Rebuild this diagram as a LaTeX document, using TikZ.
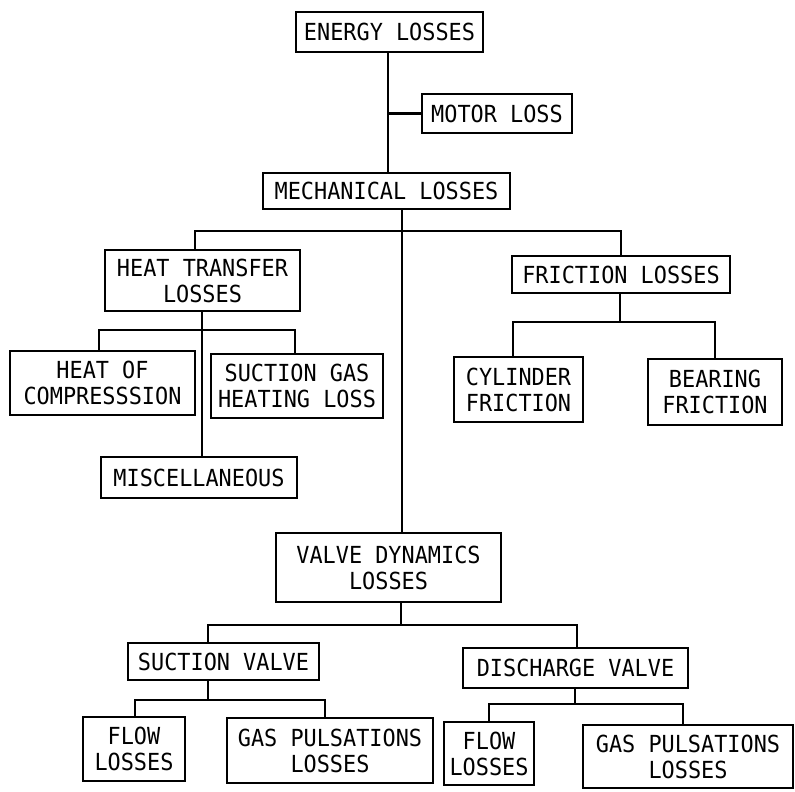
\documentclass[tikz,border=0pt]{standalone}
\usepackage{fontspec}
\newfontfamily\boxfont[FakeStretch=0.93]{DejaVu Sans Mono}
\begin{document}
\begin{tikzpicture}[x=1pt,y=-1pt,
  lbox/.style={draw, line width=2.6pt, inner sep=0pt, align=center,
    font=\boxfont\fontsize{23.5}{26}\selectfont},
  conn/.style={line width=2.8pt}]
\useasboundingbox[fill=white] (0,0) rectangle (795,792);
% boxes
\node[lbox, minimum width=187, minimum height=40] (EL) at (389.5,32) {ENERGY LOSSES};
\node[lbox, minimum width=150, minimum height=39] (MOTOR) at (497,113.5) {MOTOR LOSS};
\node[lbox, minimum width=247, minimum height=36] (MECH) at (386.5,191) {MECHANICAL LOSSES};
\node[lbox, minimum width=195, minimum height=61] (HTL) at (202.5,280.5) {HEAT TRANSFER\\LOSSES};
\node[lbox, minimum width=218, minimum height=37] (FRIC) at (621,274.5) {FRICTION LOSSES};
\node[lbox, minimum width=185, minimum height=64] (HOC) at (102.5,383) {HEAT OF\\COMPRESSSION};
\node[lbox, minimum width=172, minimum height=64] (SGH) at (297,386) {SUCTION GAS\\HEATING LOSS};
\node[lbox, minimum width=196, minimum height=41] (MISC) at (199,477.5) {MISCELLANEOUS};
\node[lbox, minimum width=129, minimum height=65] (CYL) at (518.5,389.5) {CYLINDER\\FRICTION};
\node[lbox, minimum width=134, minimum height=66] (BEAR) at (715,392) {BEARING\\FRICTION};
\node[lbox, minimum width=225, minimum height=69] (VDL) at (388.5,567.5) {VALVE DYNAMICS\\LOSSES};
\node[lbox, minimum width=191, minimum height=37] (SV) at (223.5,661.5) {SUCTION VALVE};
\node[lbox, minimum width=225, minimum height=40] (DV) at (575.5,668) {DISCHARGE VALVE};
\node[lbox, minimum width=102, minimum height=64] (FLa) at (134,749) {FLOW\\LOSSES};
\node[lbox, minimum width=206, minimum height=65] (GPa) at (330,750.5) {GAS PULSATIONS\\LOSSES};
\node[lbox, minimum width=90, minimum height=63] (FLb) at (489,753.5) {FLOW\\LOSSES};
\node[lbox, minimum width=210, minimum height=63] (GPb) at (688,756.5) {GAS PULSATIONS\\LOSSES};
% junction coordinates
\coordinate (tr) at (388,0);
\coordinate (mb) at (402,231);
\coordinate (mbL) at (195,231);
\coordinate (mbR) at (621,231);
\coordinate (hb) at (202,330);
\coordinate (hbL) at (99,330);
\coordinate (hbR) at (295,330);
\coordinate (fb) at (620,322);
\coordinate (fbL) at (513,322);
\coordinate (fbR) at (715,322);
\coordinate (vb) at (401,625);
\coordinate (vbL) at (208,625);
\coordinate (vbR) at (577,625);
\coordinate (sb) at (208,700);
\coordinate (sbL) at (135,700);
\coordinate (sbR) at (325,700);
\coordinate (db) at (575,704);
\coordinate (dbL) at (489,704);
\coordinate (dbR) at (683,704);
% connectors
\draw[conn] (EL.south -| tr) -- (MECH.north -| tr);
\draw[conn] (MOTOR.west -| tr) -- (MOTOR.west);
\draw[conn] (MECH.south -| mb) -- (VDL.north -| mb);
\draw[conn] (HTL.north -| mbL) -- (mbL) -- (mbR) -- (FRIC.north -| mbR);
\draw[conn] (HTL.south -| hb) -- (MISC.north -| hb);
\draw[conn] (HOC.north -| hbL) -- (hbL) -- (hbR) -- (SGH.north -| hbR);
\draw[conn] (FRIC.south -| fb) -- (fb);
\draw[conn] (CYL.north -| fbL) -- (fbL) -- (fbR) -- (BEAR.north -| fbR);
\draw[conn] (VDL.south -| vb) -- (vb);
\draw[conn] (SV.north -| vbL) -- (vbL) -- (vbR) -- (DV.north -| vbR);
\draw[conn] (SV.south -| sb) -- (sb);
\draw[conn] (FLa.north -| sbL) -- (sbL) -- (sbR) -- (GPa.north -| sbR);
\draw[conn] (DV.south -| db) -- (db);
\draw[conn] (FLb.north -| dbL) -- (dbL) -- (dbR) -- (GPb.north -| dbR);
\end{tikzpicture}
\end{document}
